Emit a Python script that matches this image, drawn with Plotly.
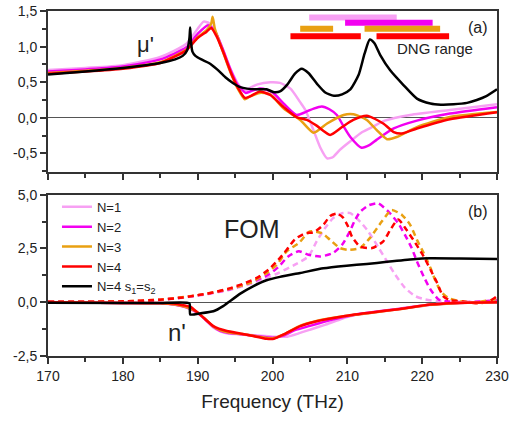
import plotly.graph_objects as go
from plotly.subplots import make_subplots

# ---------------- data ----------------
names = ["N=1", "N=2", "N=3", "N=4", "N=4 s<sub>1</sub>=s<sub>2</sub>"]
colors = ["#F7A0F3", "#F200F0", "#E9A012", "#FF0000", "#000000"]

# panel (a): mu'
mu1_f = [170, 175, 180, 185, 188.5, 190, 190.8, 191.5, 192.5, 193.5, 194.5, 195.5, 196.4, 197, 198, 199.7, 201, 202.4, 203.7, 204.4, 205.5, 206.4, 207.3, 208.1, 209.0, 210.4, 212, 213.5, 215, 218.4, 223.7, 230]
mu1_v = [0.67, 0.70, 0.74, 0.855, 1.04, 1.25, 1.35, 1.33, 1.18, 0.92, 0.66, 0.46, 0.38, 0.42, 0.47, 0.50, 0.49, 0.41, 0.22, 0.11, -0.18, -0.42, -0.57, -0.55, -0.45, -0.33, -0.20, -0.12, -0.04, 0.04, 0.11, 0.19]
mu2_f = [170, 175, 180, 185, 188.5, 190, 191.4, 192.3, 193.3, 194.3, 195.3, 196.4, 197, 198.3, 199.3, 200.1, 201.5, 203.2, 204.4, 205.5, 206.6, 207.6, 208.6, 209.5, 210.4, 211.9, 213.0, 213.9, 216.2, 219.3, 223.7, 230]
mu2_v = [0.65, 0.68, 0.72, 0.82, 0.99, 1.18, 1.30, 1.22, 0.98, 0.70, 0.47, 0.35, 0.37, 0.41, 0.39, 0.35, 0.20, 0.04, 0.08, 0.13, 0.16, 0.12, 0.04, -0.12, -0.27, -0.42, -0.38, -0.31, -0.15, -0.04, 0.06, 0.15]
mu3_f = [170, 175, 180, 185, 188.5, 190, 191.2, 191.8, 192.0, 192.3, 193.3, 194.3, 195.3, 196.3, 197, 198.3, 199.7, 201.5, 203.7, 205.5, 207.3, 209.5, 210.8, 212.6, 213.9, 215.3, 216.6, 219.3, 223.7, 230]
mu3_v = [0.63, 0.66, 0.70, 0.78, 0.96, 1.13, 1.23, 1.32, 1.42, 1.25, 0.95, 0.66, 0.42, 0.26, 0.30, 0.35, 0.33, 0.13, -0.03, -0.21, -0.08, 0.04, 0.05, -0.03, -0.17, -0.30, -0.27, -0.13, 0.01, 0.08]
mu4_f = [170, 175, 180, 185, 188.5, 190, 191.2, 191.8, 192.5, 193.5, 194.5, 195.5, 196.3, 197, 198.3, 199.7, 201.5, 203.2, 204.6, 205.9, 207.7, 209.3, 210.8, 212.6, 214.8, 216.2, 217.3, 219.3, 223.7, 230]
mu4_v = [0.62, 0.65, 0.69, 0.77, 0.95, 1.12, 1.21, 1.26, 1.15, 0.90, 0.62, 0.40, 0.28, 0.30, 0.37, 0.32, 0.15, 0.01, -0.03, -0.11, -0.24, -0.13, -0.03, 0.03, -0.08, -0.20, -0.22, -0.15, -0.02, 0.08]
mu5_f = [170, 175, 180, 185, 187, 188, 188.6, 188.9, 189.0, 189.1, 189.3, 189.7, 190.5, 191.5, 192.6, 193.7, 194.7, 195.7, 196.6, 198, 199.2, 200.2, 201, 202, 203, 203.9, 204.8, 206, 207, 208.2, 209.3, 210.4, 211.5, 212.3, 213.0, 213.6, 214.4, 215.7, 217.5, 219.3, 221.1, 222.5, 224.2, 226, 227.3, 228.5, 230]
mu5_v = [0.61, 0.65, 0.70, 0.77, 0.82, 0.87, 0.95, 1.12, 1.27, 1.08, 0.93, 0.87, 0.82, 0.77, 0.68, 0.57, 0.49, 0.43, 0.41, 0.40, 0.40, 0.36, 0.37, 0.47, 0.62, 0.69, 0.63, 0.47, 0.36, 0.31, 0.33, 0.40, 0.60, 0.90, 1.10, 1.05, 0.88, 0.67, 0.46, 0.27, 0.20, 0.185, 0.19, 0.21, 0.25, 0.30, 0.40]

# DNG ranges (start, end) and bar level
dng_ranges = [
    [[204.9, 216.6]],
    [[209.7, 221.4]],
    [[203.7, 208.1], [212.3, 222.4]],
    [[202.4, 211.8], [213.9, 223.6]],
]
dng_levels = [1.41, 1.335, 1.25, 1.145]

# panel (b): n'
n1_f = [170, 180, 185, 187, 188.5, 190, 191, 192, 193, 194, 196, 198, 200, 202, 203.5, 205, 207, 209, 211, 213, 217, 221, 225, 230]
n1_v = [0.0, -0.03, -0.05, -0.12, -0.25, -0.50, -0.80, -1.15, -1.35, -1.45, -1.50, -1.55, -1.60, -1.60, -1.45, -1.28, -1.05, -0.80, -0.60, -0.50, -0.32, -0.13, -0.02, 0.0]
n2_f = [170, 180, 185, 187, 188.5, 190, 191, 192, 193, 194, 196, 198, 200, 201.5, 203, 205, 207, 209, 211, 213, 217, 221, 225, 230]
n2_v = [0.0, -0.03, -0.05, -0.12, -0.24, -0.50, -0.80, -1.12, -1.33, -1.42, -1.50, -1.58, -1.65, -1.55, -1.30, -1.10, -0.90, -0.72, -0.58, -0.48, -0.30, -0.12, -0.03, 0.0]
n3_f = [170, 180, 185, 187, 188.5, 190, 191, 192, 193, 194, 196, 198, 200, 201.5, 203.5, 206, 209.5, 213, 217, 221, 225, 230]
n3_v = [0.0, -0.03, -0.05, -0.11, -0.23, -0.48, -0.78, -1.10, -1.30, -1.40, -1.48, -1.60, -1.68, -1.50, -1.12, -0.86, -0.65, -0.50, -0.32, -0.12, -0.03, 0.0]
n4_f = [170, 180, 185, 186.8, 187.6, 189, 190, 190.8, 192.1, 193.9, 195.7, 197.4, 199.2, 200.2, 201.5, 203.7, 205.9, 209.5, 213, 217.1, 221.1, 224.6, 230]
n4_v = [0.0, -0.03, -0.04, -0.06, -0.11, -0.21, -0.48, -0.72, -1.11, -1.34, -1.45, -1.57, -1.70, -1.70, -1.50, -1.11, -0.88, -0.65, -0.49, -0.31, -0.11, -0.03, 0.0]
n5_f = [170, 180, 185, 188.9, 189.0, 190.3, 192.1, 193.4, 194.3, 195.7, 197.4, 199.2, 201.0, 203.7, 206.8, 209.9, 212.6, 215.3, 218.8, 221, 225, 230]
n5_v = [-0.02, -0.03, -0.04, -0.05, -0.57, -0.52, -0.42, -0.18, 0.05, 0.40, 0.74, 1.02, 1.18, 1.36, 1.58, 1.70, 1.78, 1.88, 2.00, 2.04, 2.03, 2.01]

# panel (b): FOM
fom1_f = [170, 180, 185, 190, 194, 197, 199, 200.8, 203, 204.8, 205.9, 207, 208.1, 209.3, 210.4, 211.7, 212.8, 214.2, 215.3, 216.4, 217.7, 219.1, 220.4, 222, 225, 230]
fom1_v = [0.02, 0.03, 0.10, 0.30, 0.55, 0.85, 1.10, 1.36, 1.75, 2.13, 2.83, 3.44, 3.91, 4.14, 4.14, 3.75, 3.29, 2.52, 1.90, 1.28, 0.67, 0.28, 0.13, 0.05, 0.02, 0.05]
fom2_f = [170, 180, 185, 190, 194, 197, 199.45, 200.8, 202.1, 203.5, 204.8, 206.4, 208.1, 209.3, 210.2, 211.0, 211.7, 212.8, 214.1, 215.5, 216.8, 217.7, 218.6, 219.3, 220.2, 221.1, 222.2, 223.5, 226, 230]
fom2_v = [0.02, 0.03, 0.11, 0.32, 0.58, 0.90, 1.28, 1.64, 2.13, 2.37, 2.21, 2.13, 2.29, 2.67, 3.20, 3.80, 4.20, 4.50, 4.60, 4.21, 3.67, 3.13, 2.52, 1.90, 1.20, 0.60, 0.13, 0.03, 0.0, 0.10]
fom3_f = [170, 180, 185, 190, 194, 197, 199, 200.6, 201.9, 203.5, 205.0, 206.6, 207.7, 209.0, 210.1, 211.7, 213.0, 214.6, 215.9, 217.3, 218.4, 219.3, 220.2, 221.1, 221.7, 222.5, 223.5, 225, 227, 230]
fom3_v = [0.02, 0.04, 0.12, 0.33, 0.60, 0.90, 1.30, 1.75, 2.37, 2.75, 3.29, 3.21, 2.90, 2.52, 2.44, 2.52, 2.98, 3.75, 4.29, 4.06, 3.60, 2.90, 2.29, 1.60, 1.06, 0.50, 0.20, 0.05, 0.0, 0.15]
fom4_f = [170, 180, 185, 188, 190, 192, 194, 196, 197.9, 199.45, 200.8, 201.9, 203.0, 204.4, 205.5, 206.8, 207.7, 208.6, 209.4, 210.1, 210.6, 211.7, 213.3, 214.8, 215.8, 216.8, 217.9, 219.1, 220.2, 221.1, 222.0, 222.8, 223.7, 225.5, 227.5, 229, 230]
fom4_v = [0.02, 0.04, 0.12, 0.22, 0.33, 0.45, 0.62, 0.85, 1.13, 1.51, 1.98, 2.44, 2.93, 3.21, 3.25, 3.60, 4.01, 4.12, 3.95, 3.52, 3.06, 2.59, 2.52, 2.83, 3.40, 3.85, 3.37, 2.75, 2.13, 1.52, 0.90, 0.28, 0.10, 0.03, -0.05, 0.05, 0.28]

mu_y_ticks = [-0.5, 0.0, 0.5, 1.0, 1.5]
mu_y_text = ["-0,5", "0,0", "0,5", "1,0", "1,5"]
n_y_ticks = [-2.5, 0.0, 2.5, 5.0]
n_y_text = ["-2,5", "0,0", "2,5", "5,0"]
x_ticks = [170, 180, 190, 200, 210, 220, 230]
x_text = ["170", "180", "190", "200", "210", "220", "230"]

# ---------------- figure ----------------
FONT = "Arial, Liberation Sans, sans-serif"
fig = make_subplots(rows=2, cols=1, shared_xaxes=False, vertical_spacing=0.065)

mu_f = [mu1_f, mu2_f, mu3_f, mu4_f, mu5_f]
mu_v = [mu1_v, mu2_v, mu3_v, mu4_v, mu5_v]
n_f = [n1_f, n2_f, n3_f, n4_f, n5_f]
n_v = [n1_v, n2_v, n3_v, n4_v, n5_v]
fom_f = [fom1_f, fom2_f, fom3_f, fom4_f]
fom_v = [fom1_v, fom2_v, fom3_v, fom4_v]

# DNG bars
for i, ranges in enumerate(dng_ranges):
    for r in ranges:
        fig.add_trace(go.Scatter(x=r, y=[dng_levels[i]] * 2, mode="lines",
                                 line=dict(color=colors[i], width=6), showlegend=False,
                                 hoverinfo="skip"), row=1, col=1)

for i in range(5):
    fig.add_trace(go.Scatter(x=mu_f[i], y=mu_v[i], mode="lines",
                             line=dict(color=colors[i], width=2.5, shape="spline", smoothing=0.6),
                             showlegend=False), row=1, col=1)

for i in range(4):
    fig.add_trace(go.Scatter(x=fom_f[i], y=fom_v[i], mode="lines",
                             line=dict(color=colors[i], width=2.5, dash="6px,4px", shape="spline", smoothing=0.6),
                             showlegend=False), row=2, col=1)

for i in range(5):
    fig.add_trace(go.Scatter(x=n_f[i], y=n_v[i], mode="lines", name=names[i],
                             line=dict(color=colors[i], width=2.5, shape="spline", smoothing=0.5),
                             showlegend=True), row=2, col=1)

axis_common = dict(showline=True, linecolor="#333", linewidth=2, mirror=True,
                   ticks="outside", ticklen=6, tickwidth=1.5, tickcolor="#333",
                   showgrid=False, automargin=False,
                   tickfont=dict(family=FONT, size=14, color="#222"))

fig.update_xaxes(range=[170, 230], tickvals=x_ticks, ticktext=x_text,
                 minor=dict(tickvals=[175, 185, 195, 205, 215, 225], ticks="outside", ticklen=4, tickcolor="#333", tickwidth=1.5),
                 zeroline=False, **axis_common)
fig.update_xaxes(showticklabels=False, row=1, col=1)
fig.update_xaxes(title=dict(text="Frequency (THz)", font=dict(family=FONT, size=19, color="#222"), standoff=12), row=2, col=1)

fig.update_yaxes(range=[-0.765, 1.5], tickvals=mu_y_ticks, ticktext=mu_y_text,
                 minor=dict(tickvals=[-0.75, -0.25, 0.25, 0.75, 1.25], ticks="outside", ticklen=4, tickcolor="#333", tickwidth=1.5),
                 zeroline=True, zerolinecolor="#555", zerolinewidth=1, **axis_common, row=1, col=1)
fig.update_yaxes(range=[-2.5, 5.0], tickvals=n_y_ticks, ticktext=n_y_text,
                 minor=dict(tickvals=[-1.25, 1.25, 3.75], ticks="outside", ticklen=4, tickcolor="#333", tickwidth=1.5),
                 zeroline=True, zerolinecolor="#555", zerolinewidth=1, **axis_common, row=2, col=1)

fig.update_layout(
    width=509, height=421,
    margin=dict(l=48, r=12, t=11, b=65),
    paper_bgcolor="white", plot_bgcolor="white",
    font=dict(family=FONT, color="#222"),
    legend=dict(x=0.02, y=0.476, xanchor="left", yanchor="top",
                bgcolor="rgba(0,0,0,0)", font=dict(family=FONT, size=13, color="#222"),
                tracegroupgap=0, itemwidth=30),
)
fig.update_yaxes(domain=[0.5325, 1.0], row=1, col=1)
fig.update_yaxes(domain=[0.0, 0.4675], row=2, col=1)

ann = [
    dict(text="\u03bc'", x=183.0, y=1.03, xref="x", yref="y", size=22),
    dict(text="DNG range", x=221.7, y=0.98, xref="x", yref="y", size=15),
    dict(text="(a)", x=227.5, y=1.27, xref="x", yref="y", size=16),
    dict(text="(b)", x=227.5, y=4.2, xref="x2", yref="y2", size=16),
    dict(text="FOM", x=197.3, y=3.41, xref="x2", yref="y2", size=25),
    dict(text="n'", x=187.2, y=-1.40, xref="x2", yref="y2", size=24),
]
for a in ann:
    fig.add_annotation(text=a["text"], x=a["x"], y=a["y"], xref=a["xref"], yref=a["yref"],
                       showarrow=False, font=dict(family=FONT, size=a["size"], color="#222"))

fig.write_html("out.html", config={"displayModeBar": False},
               post_script="document.body.style.margin='0';document.body.style.overflow='hidden';")
